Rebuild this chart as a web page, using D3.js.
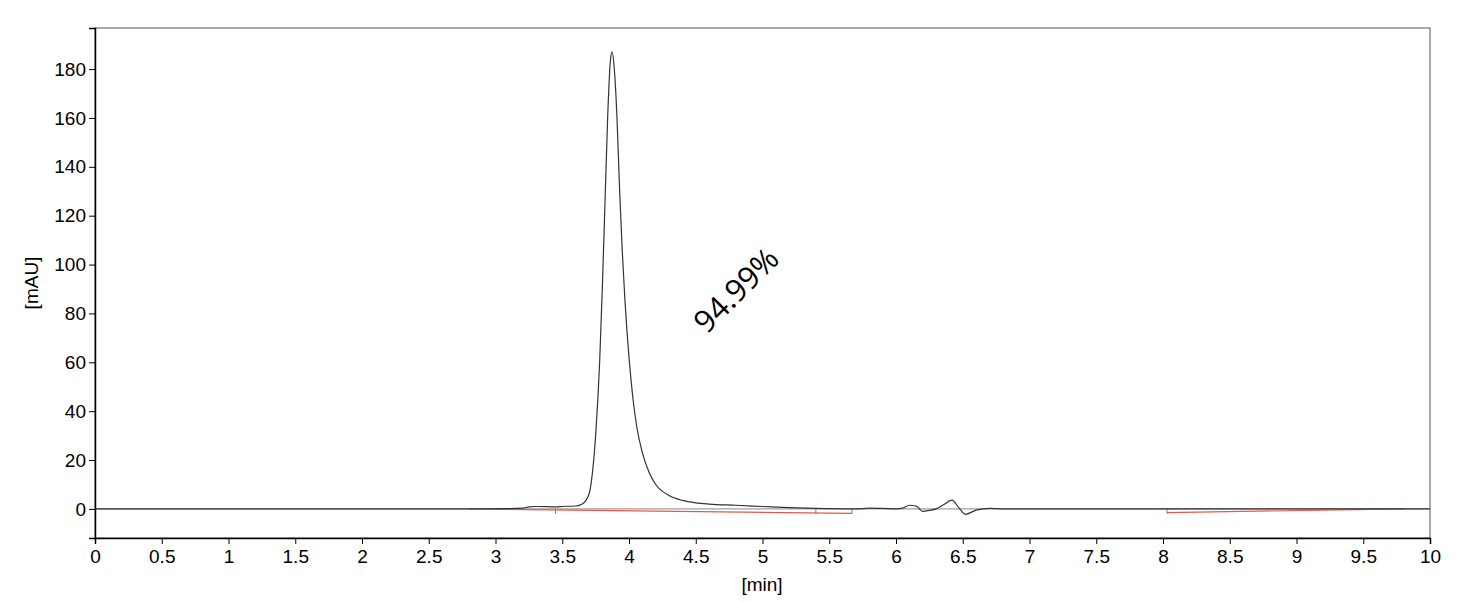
<!DOCTYPE html><html><head><meta charset="utf-8"><script src="https://cdn.jsdelivr.net/npm/d3@7"></script>
<style>body{margin:0;background:#fff}svg{font-family:"Liberation Sans",Arial,sans-serif}</style></head><body><svg id="c" width="1460" height="602"></svg><script>
const traceT=[0,2.8,3.1,3.2,3.25,3.3,3.4,3.45,3.5,3.6,3.65,3.7,3.72,3.75,3.78,3.8,3.82,3.84,3.86,3.873,3.89,3.91,3.93,3.95,3.97,4.0,4.03,4.06,4.1,4.15,4.2,4.3,4.4,4.5,4.6,4.8,5.0,5.2,5.4,5.7,5.8,5.9,6.0,6.05,6.1,6.15,6.2,6.25,6.3,6.35,6.42,6.47,6.52,6.6,6.7,6.8,10];
const traceV=[0,0,0.1,0.3,0.8,1.0,0.9,0.8,1.0,1.2,2,6,12,30,60,90,125,160,183,187,180,160,130,105,85,62,45,33,23,15,10,5.5,3.5,2.5,2,1.5,1.0,0.5,0.2,0,0.3,0.2,0,0.3,1.5,1.2,-1,-0.6,0,1.5,3.6,0.5,-2.2,-0.5,0.2,0,0];
const baseT=[[2.8,5.67],[8.03,9.8]];
const baseV=[[0,-1.8],[-1.5,0]];
const markT=[3.45,5.4,5.67,8.03];
const xTicks=d3.range(0,10.01,0.5);
const yTicks=d3.range(0,181,20);
const label="94.99%";
const svg=d3.select("#c");
const x=d3.scaleLinear([0,10],[95,1430]);
const y=d3.scaleLinear([-11.9,196.8],[538,28]);
svg.append("rect").attr("x",95).attr("y",28).attr("width",1335).attr("height",510).attr("fill","none").attr("stroke","#555");
svg.append("line").attr("x1",95).attr("x2",1430).attr("y1",y(0)).attr("y2",y(0)).attr("stroke","#888");
const xa=svg.append("g").attr("transform","translate(0,538)").call(d3.axisBottom(x).tickValues(xTicks).tickFormat(d3.format("~g")).tickSize(6));
const ya=svg.append("g").attr("transform","translate(95,0)").call(d3.axisLeft(y).tickValues(yTicks).tickSize(6));
[xa,ya].forEach(a=>{a.selectAll("text").attr("font-size",19).attr("fill","#000");a.select(".domain").attr("stroke","#000").attr("stroke-width",1.5);});
xa.selectAll("text").attr("dy","0.85em");
svg.append("text").attr("x",762).attr("y",591).attr("text-anchor","middle").attr("font-size",19).text("[min]");
svg.append("text").attr("transform","translate(38,283) rotate(-90)").attr("text-anchor","middle").attr("font-size",19).text("[mAU]");
baseT.forEach((bt,i)=>svg.append("line").attr("x1",x(bt[0])).attr("x2",x(bt[1])).attr("y1",y(baseV[i][0])).attr("y2",y(baseV[i][1])).attr("stroke","#e8564c").attr("stroke-width",1.2));
markT.forEach(t=>svg.append("line").attr("x1",x(t)).attr("x2",x(t)).attr("y1",y(0)).attr("y2",y(0)+5).attr("stroke","#4a4").attr("stroke-width",1));
svg.append("path").datum(traceT.map((t,i)=>[t,traceV[i]])).attr("fill","none").attr("stroke","#333").attr("stroke-width",1.2)
 .attr("d",d3.line().x(d=>x(d[0])).y(d=>y(d[1])).curve(d3.curveMonotoneX));
svg.append("text").attr("transform","translate(738,292) rotate(-45)").attr("text-anchor","middle").attr("dominant-baseline","middle").attr("font-family","Open Sans").attr("font-size",31).text(label);
</script></body></html>
